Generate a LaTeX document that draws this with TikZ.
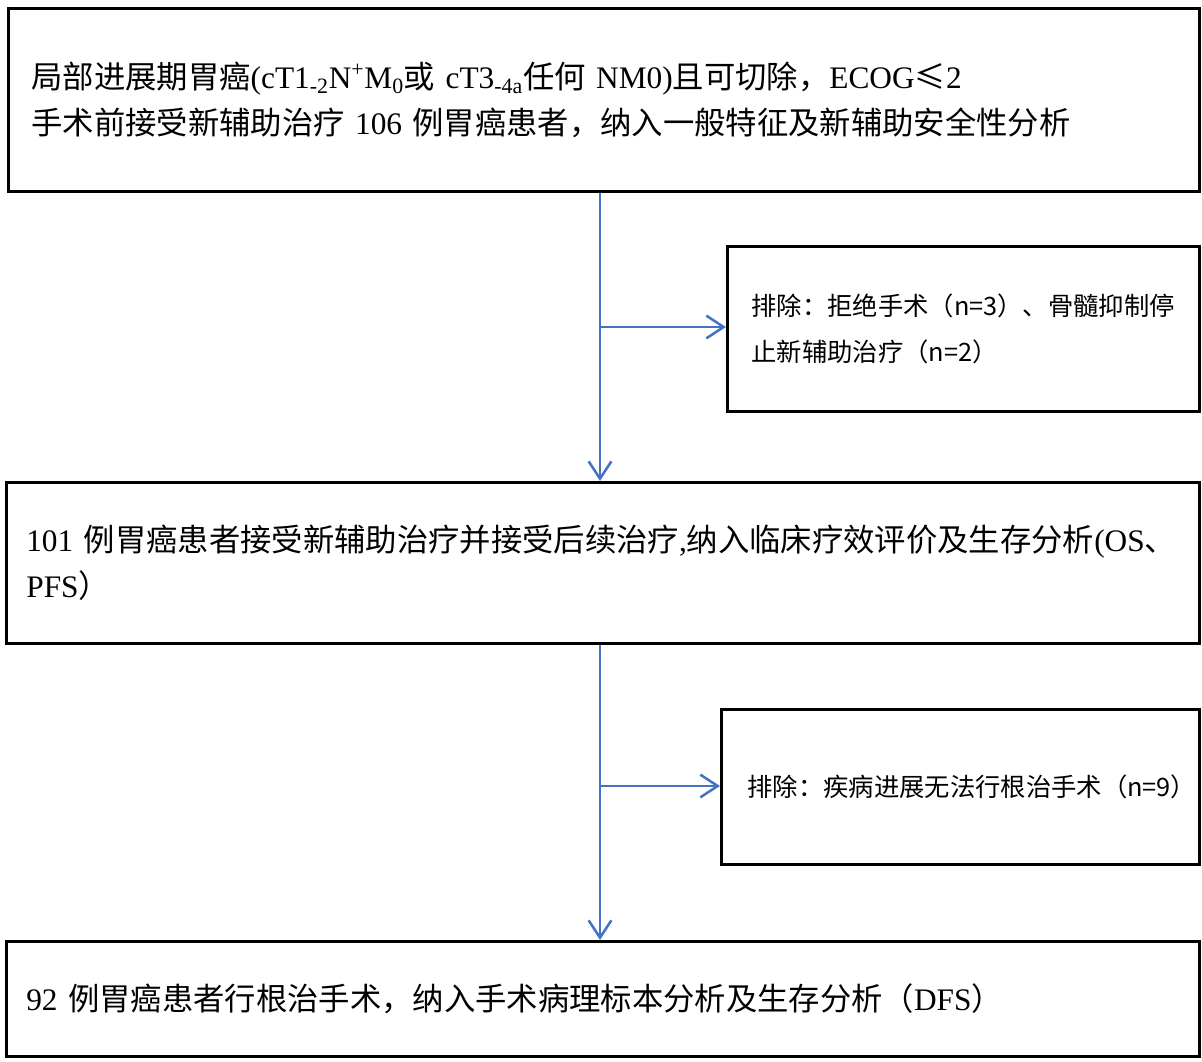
\documentclass[tikz,border=0pt]{standalone}
\usepackage{fontspec}
\setmainfont{Liberation Serif}
\newfontfamily\cjk{Noto Sans CJK SC}
\usetikzlibrary{arrows.meta}
\newcommand\zh[1]{{\cjk #1}}
\definecolor{arrblue}{HTML}{4472C4}
\begin{document}
\begin{tikzpicture}[x=0.75pt,y=-0.75pt,
  box/.style={draw=black,line width=2pt,rectangle,anchor=north west,align=left,inner ysep=0pt},
  mainbox/.style={box,font=\fontsize{23.5pt}{34pt}\selectfont},
  exbox/.style={box,font=\cjk\fontsize{19pt}{35pt}\selectfont},
  flow/.style={draw=arrblue,line width=1.9pt},
  arr/.style={flow,-{Straight Barb[length=13pt,width=17pt]}}]
\useasboundingbox (0,0) rectangle (1202,1061);

\node[mainbox,text width=858.75pt,inner xsep=17.25pt,minimum height=137.25pt] (b1) at (7,7)
  {\zh{局部进展期胃癌}(cT1\textsubscript{-2}N\textsuperscript{+}M\textsubscript{0}\zh{或}~cT3\textsubscript{-4a}\zh{任何}~NM0)\zh{且可切除，}ECOG\zh{≤}2\\
   \zh{手术前接受新辅助治疗}~106~\zh{例胃癌患者，纳入一般特征及新辅助安全性分析}};

\node[exbox,text width=318pt,inner xsep=18pt,minimum height=123.75pt] (e1) at (726,245)
  {排除：拒绝手术（n=3）、骨髓抑制停\\止新辅助治疗（n=2）};

\node[mainbox,text width=864.75pt,inner xsep=15pt,minimum height=120.75pt] (b2) at (5,481)
  {101~\zh{例胃癌患者接受新辅助治疗并接受后续治疗},\zh{纳入临床疗效评价及生存分析}(OS\zh{、}\\
   PFS\zh{）}};

\node[exbox,text width=319.5pt,inner xsep=19.5pt,minimum height=116.25pt] (e2) at (720,708)
  {排除：疾病进展无法行根治手术（n=9）};

\node[mainbox,text width=864.75pt,inner xsep=15pt,minimum height=86.25pt] (b3) at (5,940)
  {92~\zh{例胃癌患者行根治手术，纳入手术病理标本分析及生存分析（}DFS\zh{）}};

\coordinate (j1) at (600,327);
\coordinate (j2) at (600,786);

\draw[arr] (b1.south -| j1) -- (b2.north -| j1);
\draw[arr] (j1) -- (j1 -| e1.west);
\draw[arr] (b2.south -| j2) -- (b3.north -| j2);
\draw[arr] (j2) -- (j2 -| e2.west);
\end{tikzpicture}
\end{document}
